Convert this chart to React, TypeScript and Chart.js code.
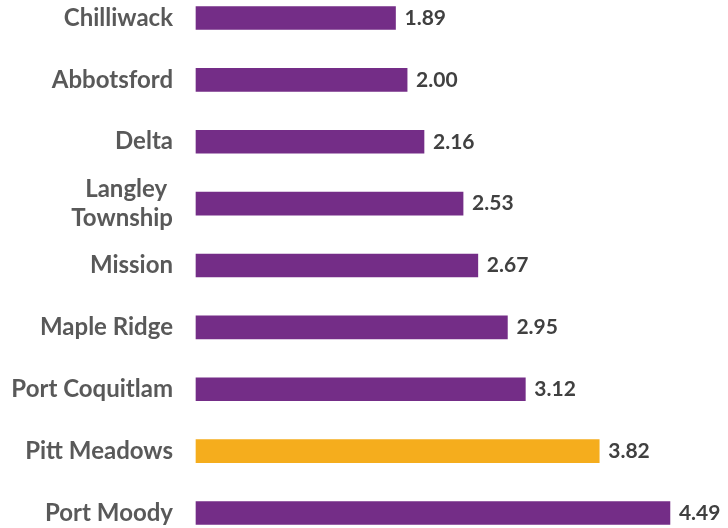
import React, { useEffect, useRef } from "react";
import { Chart, registerables } from "chart.js";

Chart.register(...registerables);

const categories: (string | string[])[] = [
  "Chilliwack",
  "Abbotsford",
  "Delta",
  ["Langley ", "Township"],
  "Mission",
  "Maple Ridge",
  "Port Coquitlam",
  "Pitt Meadows",
  "Port Moody",
];
const values = [1.89, 2.0, 2.16, 2.53, 2.67, 2.95, 3.12, 3.82, 4.49];
const highlight = "Pitt Meadows";
const PURPLE = "#742d87";
const ORANGE = "#f5ad1d";

const valueLabels = {
  id: "valueLabels",
  afterDatasetsDraw(chart: any) {
    const ctx = chart.ctx;
    const meta = chart.getDatasetMeta(0);
    ctx.save();
    ctx.font = "bold 21px Lato";
    ctx.fillStyle = "#404040";
    ctx.textAlign = "left";
    ctx.textBaseline = "middle";
    meta.data.forEach((bar: any, i: number) => {
      ctx.fillText(values[i].toFixed(2), bar.x + 9, bar.y);
    });
    ctx.restore();
  },
};

export default function App() {
  const ref = useRef<HTMLCanvasElement | null>(null);
  useEffect(() => {
    if (!ref.current) return;
    const chart = new Chart(ref.current, {
      type: "bar",
      data: {
        labels: categories,
        datasets: [
          {
            data: values,
            backgroundColor: categories.map((c) => (c === highlight ? ORANGE : PURPLE)),
            barThickness: 23,
            clip: false as any,
          },
        ],
      },
      options: {
        indexAxis: "y",
        animation: false,
        responsive: false,
        maintainAspectRatio: false,
        layout: { padding: { top: 18, bottom: 15, left: 0, right: 0 } },
        plugins: { legend: { display: false }, tooltip: { enabled: false } },
        scales: {
          x: { display: false, min: 0, max: 5.04 },
          y: {
            offset: false,
            border: { display: false },
            grid: { display: false, drawTicks: false },
            ticks: {
              autoSkip: false,
              padding: 23,
              color: "#595959",
              font: { family: "Lato", weight: "bold", size: 24, lineHeight: 1.2 },
            },
            afterFit(scale: any) {
              scale.width = 196;
              scale.paddingTop = 0;
              scale.paddingBottom = 0;
            },
          },
        },
      },
      plugins: [valueLabels],
    });
    return () => chart.destroy();
  }, []);
  return (
    <div style={{ position: "fixed", left: 0, top: 0, width: 728, height: 528, background: "#fff" }}>
      <canvas ref={ref} width={728} height={528} />
    </div>
  );
}
